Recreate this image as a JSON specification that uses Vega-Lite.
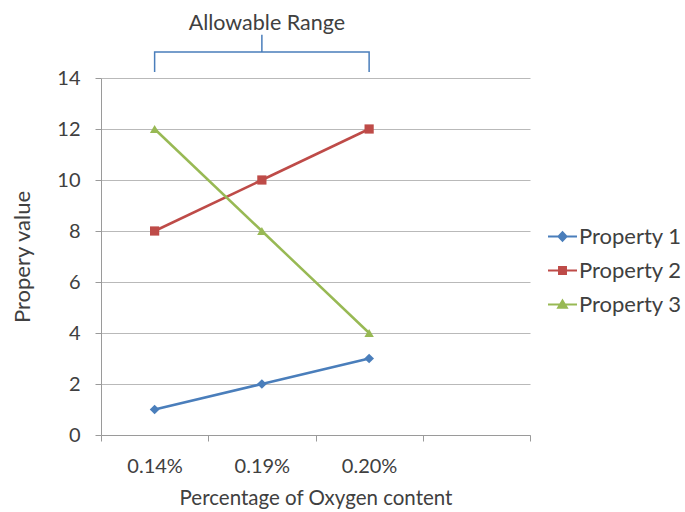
{
  "$schema": "https://vega.github.io/schema/vega-lite/v6.json",
  "width": 429,
  "height": 357,
  "autosize": "none",
  "padding": {"left": 101, "top": 78, "right": 155, "bottom": 77},
  "background": "white",
  "config": {
    "font": "Lato",
    "view": {"stroke": null},
    "axis": {"labelColor": "#404040", "titleColor": "#404040", "labelFontSize": 20, "titleFontSize": 20.5, "titleFontWeight": "normal", "domainColor": "#9a9a9a", "tickColor": "#9a9a9a", "gridColor": "#b9b9b9"}
  },
  "datasets": {
    "props": [
      {"oxygen": "0.14%", "series": "Property 1", "value": 1},
      {"oxygen": "0.19%", "series": "Property 1", "value": 2},
      {"oxygen": "0.20%", "series": "Property 1", "value": 3},
      {"oxygen": "0.14%", "series": "Property 2", "value": 8},
      {"oxygen": "0.19%", "series": "Property 2", "value": 10},
      {"oxygen": "0.20%", "series": "Property 2", "value": 12},
      {"oxygen": "0.14%", "series": "Property 3", "value": 12},
      {"oxygen": "0.19%", "series": "Property 3", "value": 8},
      {"oxygen": "0.20%", "series": "Property 3", "value": 4}
    ],
    "bracket": [
      {"oxygen": "0.14%", "y": 14.24, "order": 1},
      {"oxygen": "0.14%", "y": 15.02, "order": 2},
      {"oxygen": "0.19%", "y": 15.02, "order": 3},
      {"oxygen": "0.19%", "y": 15.7, "order": 4},
      {"oxygen": "0.19%", "y": 15.02, "order": 5},
      {"oxygen": "0.20%", "y": 15.02, "order": 6},
      {"oxygen": "0.20%", "y": 14.24, "order": 7}
    ],
    "note": [
      {"oxygen": "0.19%", "y": 16.12, "text": "Allowable Range"}
    ]
  },
  "layer": [
    {
      "data": {"name": "props"},
      "mark": {"type": "line", "strokeWidth": 2.5},
      "encoding": {
        "x": {
          "field": "oxygen", "type": "ordinal",
          "scale": {"type": "band", "domain": ["0.14%", "0.19%", "0.20%", "blank"], "paddingInner": 0, "paddingOuter": 0},
          "axis": {"title": "Percentage of Oxygen content", "labelAngle": 0, "tickBand": "extent", "tickSize": 6, "labelPadding": 15, "titlePadding": 12, "grid": false, "labelExpr": "datum.value == 'blank' ? '' : datum.label"}
        },
        "y": {
          "field": "value", "type": "quantitative",
          "scale": {"domain": [0, 14], "nice": false},
          "axis": {"title": "Propery value", "titleFontSize": 22, "values": [0, 2, 4, 6, 8, 10, 12, 14], "tickSize": 6, "labelPadding": 15, "titlePadding": 22, "grid": true}
        },
        "color": {
          "field": "series", "type": "nominal",
          "scale": {"domain": ["Property 1", "Property 2", "Property 3"], "range": ["#4a7ebb", "#be4b48", "#98b954"]},
          "legend": {
            "title": null, "orient": "none", "legendX": 446, "legendY": 143,
            "padding": 0, "symbolSize": 841, "symbolStrokeWidth": 2, "rowPadding": 7, "labelOffset": 1,
            "labelFontSize": 22, "labelColor": "#404040",
            "encode": {"symbols": {"update": {
              "shape": {"signal": "datum.value === 'Property 1' ? 'M-1,0H1M0,-0.3L0.28,0L0,0.3L-0.28,0Z' : datum.value === 'Property 2' ? 'M-1,0H1M-0.24,-0.24H0.24V0.24H-0.24Z' : 'M-1,0H1M0,-0.28L0.3,0.22H-0.3Z'"},
              "fill": {"scale": "color", "field": "value"},
              "stroke": {"scale": "color", "field": "value"}
            }}}
          }
        }
      }
    },
    {
      "data": {"name": "props"},
      "transform": [{"filter": "datum.series === 'Property 1'"}],
      "mark": {"type": "point", "filled": true, "opacity": 1, "size": 95, "shape": "diamond"},
      "encoding": {
        "x": {"field": "oxygen", "type": "ordinal"},
        "y": {"field": "value", "type": "quantitative"},
        "color": {"field": "series", "type": "nominal"}
      }
    },
    {
      "data": {"name": "props"},
      "transform": [{"filter": "datum.series === 'Property 2'"}],
      "mark": {"type": "point", "filled": true, "opacity": 1, "size": 85, "shape": "square"},
      "encoding": {
        "x": {"field": "oxygen", "type": "ordinal"},
        "y": {"field": "value", "type": "quantitative"},
        "color": {"field": "series", "type": "nominal"}
      }
    },
    {
      "data": {"name": "props"},
      "transform": [{"filter": "datum.series === 'Property 3'"}],
      "mark": {"type": "point", "filled": true, "opacity": 1, "size": 90, "shape": "triangle-up"},
      "encoding": {
        "x": {"field": "oxygen", "type": "ordinal"},
        "y": {"field": "value", "type": "quantitative"},
        "color": {"field": "series", "type": "nominal"}
      }
    },
    {
      "data": {"name": "bracket"},
      "mark": {"type": "line", "color": "#4a7ebb", "strokeWidth": 1.5},
      "encoding": {
        "x": {"field": "oxygen", "type": "ordinal"},
        "y": {"field": "y", "type": "quantitative"},
        "order": {"field": "order", "type": "quantitative"}
      }
    },
    {
      "data": {"name": "note"},
      "mark": {"type": "text", "fontSize": 21.5, "color": "#404040", "dx": 5, "baseline": "middle"},
      "encoding": {
        "x": {"field": "oxygen", "type": "ordinal"},
        "y": {"field": "y", "type": "quantitative"},
        "text": {"field": "text"}
      }
    }
  ]
}
